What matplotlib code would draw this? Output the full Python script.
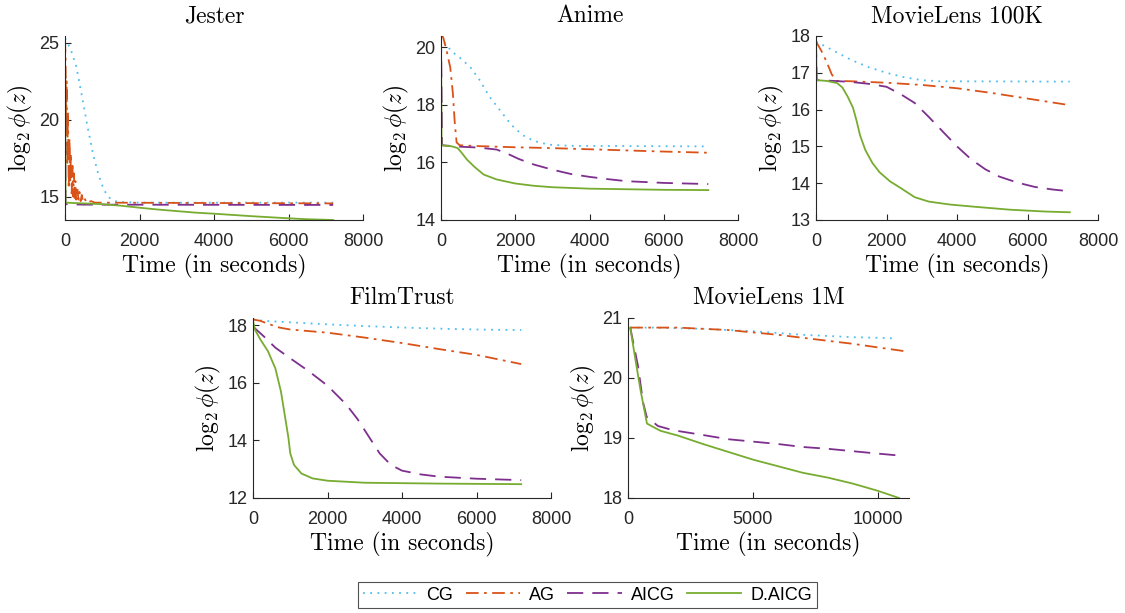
import matplotlib
matplotlib.use('Agg')
import matplotlib.pyplot as plt

plt.rcParams['mathtext.fontset'] = 'cm'
plt.rcParams['font.family'] = ['Liberation Sans', 'DejaVu Sans']

methods = ['CG', 'AG', 'AICG', 'D.AICG']
colors = ['#4DBEEE', '#D95319', '#7E2F8E', '#77AC30']
styles = [(0, (1, 3)), (0, (7, 3, 1.5, 3)), (0, (9, 5)), '-']

# Jester
jes_cg_t = [0, 150, 300, 450, 600, 750, 900, 1050, 1200, 1400, 2000, 7200]
jes_cg_v = [25.3, 24.6, 23.5, 21.6, 19.6, 17.8, 16.4, 15.4, 14.9, 14.65, 14.6, 14.6]
jes_ag_t = [0, 15, 30, 45, 60, 80, 100, 120, 140, 160, 180, 200, 220, 240, 260, 280, 300,
            330, 360, 390, 420, 450, 480, 520, 560, 600, 650, 700, 800, 900, 7200]
jes_ag_v = [25.2, 24.0, 19.0, 22.5, 17.0, 20.5, 15.5, 18.8, 16.0, 17.8, 15.2, 17.0, 15.0,
            16.5, 14.9, 16.0, 14.8, 15.6, 14.8, 15.3, 14.7, 15.1, 14.7, 14.9, 14.7, 14.8,
            14.65, 14.7, 14.6, 14.6, 14.55]
jes_aicg_t = [0, 15, 500, 7200]
jes_aicg_v = [25.3, 14.5, 14.47, 14.45]
jes_daicg_t = [0, 15, 500, 1000, 1500, 2000, 2500, 3000, 3500, 4000, 4500, 5000, 5500, 6000, 6500, 7200]
jes_daicg_v = [25.3, 14.6, 14.55, 14.5, 14.4, 14.27, 14.15, 14.05, 13.95, 13.88, 13.8, 13.72,
               13.65, 13.58, 13.52, 13.47]

# Anime
ani_cg_t = [0, 100, 300, 550, 800, 1050, 1300, 1600, 1900, 2200, 2500, 2900, 3500, 7200]
ani_cg_v = [20.4, 20.15, 19.85, 19.6, 19.3, 18.85, 18.3, 17.8, 17.3, 16.95, 16.75, 16.62, 16.58, 16.56]
ani_ag_t = [0, 60, 150, 250, 320, 370, 420, 500, 1000, 2000, 3000, 4000, 5000, 6000, 7200]
ani_ag_v = [20.45, 20.35, 19.9, 19.3, 18.4, 17.4, 16.7, 16.6, 16.57, 16.53, 16.5, 16.46,
            16.42, 16.38, 16.34]
ani_aicg_t = [0, 30, 500, 1000, 1500, 1800, 2100, 2500, 3000, 3500, 4000, 4500, 5000, 6000, 7200]
ani_aicg_v = [20.4, 16.6, 16.55, 16.52, 16.45, 16.3, 16.12, 15.93, 15.75, 15.6, 15.5, 15.42,
              15.35, 15.29, 15.25]
ani_daicg_t = [0, 15, 300, 450, 550, 700, 900, 1150, 1500, 2000, 2500, 3000, 4000, 5000, 6000, 7200]
ani_daicg_v = [20.4, 16.6, 16.56, 16.5, 16.35, 16.1, 15.85, 15.58, 15.41, 15.27, 15.19, 15.14,
               15.09, 15.07, 15.05, 15.04]

# MovieLens 100K
m100_cg_t = [0, 300, 600, 1000, 1500, 2000, 2500, 3000, 3500, 7200]
m100_cg_v = [17.85, 17.7, 17.55, 17.35, 17.15, 17.0, 16.88, 16.8, 16.77, 16.76]
m100_ag_t = [0, 150, 300, 450, 600, 1000, 2000, 3000, 4000, 5000, 6000, 7200]
m100_ag_v = [17.85, 17.6, 17.3, 16.95, 16.78, 16.77, 16.73, 16.67, 16.58, 16.45, 16.3, 16.12]
m100_aicg_t = [0, 20, 500, 1000, 1500, 2000, 2400, 2800, 3200, 3600, 4000, 4400, 4800, 5200,
               5700, 6200, 6700, 7200]
m100_aicg_v = [17.85, 16.8, 16.78, 16.75, 16.7, 16.62, 16.42, 16.18, 15.8, 15.4, 15.0, 14.65,
               14.38, 14.18, 14.02, 13.9, 13.83, 13.78]
m100_daicg_t = [0, 15, 300, 600, 750, 900, 1050, 1150, 1250, 1400, 1600, 1800, 2100, 2400,
                2800, 3200, 3800, 4500, 5500, 6500, 7200]
m100_daicg_v = [17.85, 16.8, 16.78, 16.72, 16.6, 16.35, 16.05, 15.7, 15.3, 14.9, 14.55, 14.3,
                14.05, 13.87, 13.62, 13.5, 13.42, 13.36, 13.28, 13.23, 13.21]

# FilmTrust
ft_cg_t = [0, 300, 1000, 2000, 3000, 4000, 5000, 6000, 7200]
ft_cg_v = [18.2, 18.15, 18.1, 18.03, 17.97, 17.92, 17.88, 17.85, 17.83]
ft_ag_t = [0, 200, 400, 700, 1000, 2000, 3000, 4000, 5000, 6000, 7200]
ft_ag_v = [18.2, 18.15, 18.05, 17.92, 17.85, 17.74, 17.57, 17.38, 17.17, 16.97, 16.65]
ft_aicg_t = [0, 300, 600, 1000, 1500, 2000, 2500, 2800, 3100, 3400, 3700, 4000, 4500, 5000, 6000, 7200]
ft_aicg_v = [17.95, 17.6, 17.22, 16.85, 16.4, 15.9, 15.25, 14.75, 14.15, 13.55, 13.15, 12.95,
             12.82, 12.74, 12.67, 12.62]
ft_daicg_t = [0, 50, 200, 400, 600, 750, 850, 950, 1000, 1100, 1300, 1600, 2000, 3000, 5000, 7200]
ft_daicg_v = [18.15, 17.85, 17.5, 17.1, 16.5, 15.7, 14.9, 14.1, 13.55, 13.15, 12.85, 12.68,
              12.6, 12.53, 12.5, 12.48]

# MovieLens 1M
m1m_cg_t = [90, 1000, 2000, 3000, 4000, 5000, 6000, 7000, 8000, 9000, 10000, 10700]
m1m_cg_v = [20.84, 20.84, 20.83, 20.82, 20.8, 20.78, 20.75, 20.72, 20.7, 20.68, 20.67, 20.66]
m1m_ag_t = [90, 1000, 2000, 3000, 4000, 5000, 6000, 7000, 8000, 9000, 10000, 11200]
m1m_ag_v = [20.84, 20.84, 20.84, 20.82, 20.8, 20.76, 20.72, 20.67, 20.62, 20.57, 20.51, 20.44]
m1m_aicg_t = [90, 400, 600, 750, 900, 1200, 1800, 3000, 4000, 5000, 6000, 7000, 8000, 9000,
              10000, 10800]
m1m_aicg_v = [20.84, 20.2, 19.6, 19.35, 19.3, 19.2, 19.13, 19.05, 18.98, 18.94, 18.9, 18.85,
              18.82, 18.78, 18.74, 18.71]
m1m_daicg_t = [90, 300, 500, 760, 1300, 2000, 3000, 4000, 5000, 6000, 7000, 8000, 9000, 10000, 10850]
m1m_daicg_v = [20.84, 20.3, 19.8, 19.24, 19.12, 19.04, 18.9, 18.77, 18.64, 18.53, 18.42, 18.34,
               18.24, 18.12, 18.0]

panels = [
    ('Jester', [(jes_cg_t, jes_cg_v), (jes_ag_t, jes_ag_v), (jes_aicg_t, jes_aicg_v), (jes_daicg_t, jes_daicg_v)],
     [65, 220, 363, 36], (0, 8000), (13.47, 25.45), [0, 2000, 4000, 6000, 8000], [15, 20, 25]),
    ('Anime', [(ani_cg_t, ani_cg_v), (ani_ag_t, ani_ag_v), (ani_aicg_t, ani_aicg_v), (ani_daicg_t, ani_daicg_v)],
     [441, 220, 738, 36], (0, 8000), (14, 20.4), [0, 2000, 4000, 6000, 8000], [14, 16, 18, 20]),
    ('MovieLens 100K', [(m100_cg_t, m100_cg_v), (m100_ag_t, m100_ag_v), (m100_aicg_t, m100_aicg_v), (m100_daicg_t, m100_daicg_v)],
     [816, 220, 1098, 36], (0, 8000), (13, 18), [0, 2000, 4000, 6000, 8000], [13, 14, 15, 16, 17, 18]),
    ('FilmTrust', [(ft_cg_t, ft_cg_v), (ft_ag_t, ft_ag_v), (ft_aicg_t, ft_aicg_v), (ft_daicg_t, ft_daicg_v)],
     [253, 498, 551, 318], (0, 8000), (12, 18.25), [0, 2000, 4000, 6000, 8000], [12, 14, 16, 18]),
    ('MovieLens 1M', [(m1m_cg_t, m1m_cg_v), (m1m_ag_t, m1m_ag_v), (m1m_aicg_t, m1m_aicg_v), (m1m_daicg_t, m1m_daicg_v)],
     [628, 498, 909, 318], (0, 11250), (18, 21), [0, 5000, 10000], [18, 19, 20, 21]),
]

W, H = 1125, 613
fig = plt.figure(figsize=(W / 100, H / 100), dpi=100)

handles = []
for title, series, box, xl, yl, xt, yt in panels:
    l, b, r, t = box
    ax = fig.add_axes([l / W, 1 - b / H, (r - l) / W, (b - t) / H])
    hs = []
    for (tt, vv), c, ls in zip(series, colors, styles):
        h, = ax.plot(tt, vv, color=c, linestyle=ls, lw=1.3)
        hs.append(h)
    handles = hs
    ax.set_xlim(*xl)
    ax.set_ylim(*yl)
    ax.set_xticks(xt)
    ax.set_yticks(yt)
    for s in ['top', 'right']:
        ax.spines[s].set_visible(False)
    for s in ['left', 'bottom']:
        ax.spines[s].set_color('#262626')
        ax.spines[s].set_linewidth(0.8)
    ax.tick_params(direction='in', length=4, width=0.8, colors='#262626', labelsize=13, pad=4)
    ax.tick_params(axis='x', pad=9)
    ax.set_title(title, fontfamily='cmr10', fontsize=17, pad=10)
    ax.set_xlabel('Time (in seconds)', fontfamily='cmr10', fontsize=17, labelpad=3)
    ax.set_ylabel(r'$\log_2\phi(z)$', fontsize=17, labelpad=3)

leg = fig.legend(handles, methods, loc='center', bbox_to_anchor=(587.5 / W, 1 - 595 / H),
                 ncol=4, fontsize=13, frameon=True, fancybox=False, edgecolor='#262626',
                 handlelength=3.0, handletextpad=0.5, columnspacing=0.7,
                 borderpad=0.25, borderaxespad=0)
leg.get_frame().set_linewidth(0.8)

fig.savefig('out.png', dpi=100)
